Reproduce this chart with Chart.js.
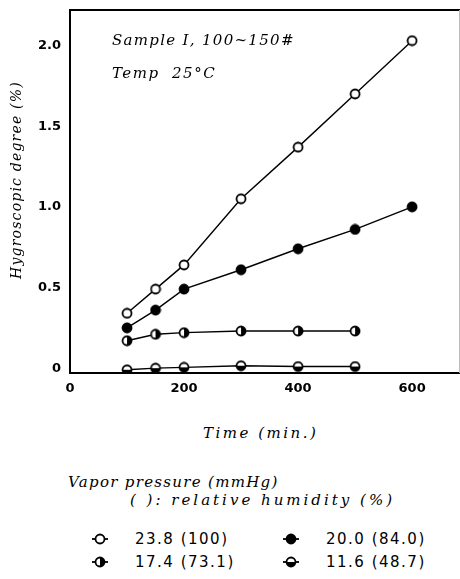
<!DOCTYPE html>
<html>
<head>
<meta charset="utf-8">
<script src="https://cdn.jsdelivr.net/npm/chart.js@4.4.1/dist/chart.umd.min.js"></script>
<style>
body { margin: 0; background: #fff; width: 460px; height: 579px; position: relative; overflow: hidden; }
#wrap { position: absolute; left: 0; top: 0; width: 460px; height: 400px; }
.hand { position: absolute; font-family: "DejaVu Serif", serif; font-style: italic; color: #000; white-space: nowrap; line-height: 20px; }
.num { position: absolute; font-family: "DejaVu Sans", sans-serif; color: #000; white-space: nowrap; line-height: 20px; font-size: 15px; letter-spacing: 1.5px; }
.mk { position: absolute; }
</style>
</head>
<body>
<div id="wrap"><canvas id="chart" width="460" height="400"></canvas></div>

<div class="hand" style="left:112px;top:30px;font-size:15px;letter-spacing:1.3px;">Sample I, 100~150#</div>
<div class="hand" style="left:112px;top:63px;font-size:15px;letter-spacing:1.5px;">Temp&nbsp;&nbsp;25°C</div>
<div class="hand" style="left:6px;top:182px;font-size:14px;letter-spacing:1.2px;transform-origin:0 0;transform:rotate(-90deg);" id="ylab">Hygroscopic degree (%)</div>
<div class="hand" style="left:203px;top:423px;font-size:15px;letter-spacing:2.5px;">Time (min.)</div>
<div class="hand" style="left:68px;top:472px;font-size:15px;letter-spacing:1.3px;">Vapor pressure (mmHg)</div>
<div class="hand" style="left:130px;top:490px;font-size:15px;letter-spacing:3px;">( ): relative humidity (%)</div>
<div id="legend"></div>

<script>
// data
const times = [100, 150, 200, 300, 400, 500, 600];
const vp238 = [0.34, 0.49, 0.64, 1.05, 1.37, 1.70, 2.03];
const vp200 = [0.25, 0.36, 0.49, 0.61, 0.74, 0.86, 1.00];
const vp174 = [0.17, 0.21, 0.22, 0.23, 0.23, 0.23, null];
const vp116 = [-0.01, 0.0, 0.005, 0.015, 0.01, 0.01, null];
const seriesLabels = ['23.8 (100)', '20.0 (84.0)', '17.4 (73.1)', '11.6 (48.7)'];
const xTicks = [0, 200, 400, 600];
const yTicks = [0, 0.5, 1.0, 1.5, 2.0];

function makeMarker(kind, w, h, withLine) {
    const c = document.createElement('canvas');
    c.width = w; c.height = h;
    const g = c.getContext('2d');
    const cx = w / 2, cy = h / 2, r = 4.5;
    g.lineWidth = 1.8;
    g.strokeStyle = '#000';
    if (withLine) {
        g.beginPath(); g.moveTo(0, cy); g.lineTo(w, cy); g.stroke();
    }
    g.beginPath(); g.arc(cx, cy, r, 0, Math.PI * 2);
    g.fillStyle = kind === 'filled' ? '#000' : '#fff';
    g.fill();
    g.fillStyle = '#000';
    if (kind === 'right') {
        g.beginPath(); g.arc(cx, cy, r, -Math.PI / 2, Math.PI / 2); g.closePath(); g.fill();
    } else if (kind === 'bottom') {
        g.beginPath(); g.arc(cx, cy, r, 0, Math.PI); g.closePath(); g.fill();
    }
    g.beginPath(); g.arc(cx, cy, r, 0, Math.PI * 2); g.stroke();
    return c;
}

const kinds = ['open', 'filled', 'right', 'bottom'];
const seriesValues = [vp238, vp200, vp174, vp116];

const topBorder = {
    id: 'topBorder',
    afterDraw(chart) {
        const { ctx, chartArea } = chart;
        ctx.save();
        ctx.strokeStyle = '#000';
        ctx.lineWidth = 2;
        ctx.beginPath();
        ctx.moveTo(chartArea.left, chartArea.top);
        ctx.lineTo(chartArea.right, chartArea.top);
        ctx.stroke();
        ctx.strokeStyle = '#bbb';
        ctx.lineWidth = 1;
        ctx.beginPath();
        ctx.moveTo(chartArea.right - 0.5, chartArea.top);
        ctx.lineTo(chartArea.right - 0.5, chartArea.bottom);
        ctx.stroke();
        ctx.restore();
    }
};

function buildChart() {
    const ctx = document.getElementById('chart').getContext('2d');
    const datasets = seriesValues.map((vals, i) => ({
        label: seriesLabels[i],
        data: times.map((t, j) => ({ x: t, y: vals[j] })),
        borderColor: '#000',
        borderWidth: 1.4,
        pointStyle: makeMarker(kinds[i], 12, 12, false),
        pointRadius: 6,
        tension: 0
    }));
    return new Chart(ctx, {
        type: 'line',
        data: { datasets },
        options: {
            responsive: false,
            animation: false,
            layout: { autoPadding: false, padding: { top: 10, left: 0, right: 0, bottom: 0 } },
            plugins: { legend: { display: false }, tooltip: { enabled: false } },
            scales: {
                x: {
                    type: 'linear', min: 0, max: 684,
                    grid: { display: false },
                    border: { display: true, color: '#000', width: 2 },
                    afterBuildTicks: s => { s.ticks = xTicks.map(v => ({ value: v })); },
                    afterFit: s => { s.height = 27; s.paddingLeft = 0; s.paddingRight = 0; },
                    ticks: { color: '#000', padding: 0, font: { family: 'DejaVu Sans', size: 13, weight: 'bold' } }
                },
                y: {
                    min: -0.03, max: 2.22,
                    grid: { display: false },
                    border: { display: true, color: '#000', width: 2 },
                    afterBuildTicks: s => { s.ticks = yTicks.map(v => ({ value: v })); },
                    afterFit: s => { s.width = 70; },
                    ticks: {
                        color: '#000', padding: 1,
                        font: { family: 'DejaVu Sans', size: 13, weight: 'bold' },
                        callback: v => v === 0 ? '0' : v.toFixed(1)
                    }
                }
            }
        },
        plugins: [topBorder]
    });
}

function buildLegend() {
    const box = document.getElementById('legend');
    const pos = [[92, 539], [283, 539], [92, 562], [283, 562]];
    seriesLabels.forEach((lab, i) => {
        const m = makeMarker(kinds[i], 16, 12, true);
        m.className = 'mk';
        m.style.left = pos[i][0] + 'px';
        m.style.top = (pos[i][1] - 6) + 'px';
        box.appendChild(m);
        const t = document.createElement('div');
        t.className = 'num';
        t.style.left = (pos[i][0] + 43) + 'px';
        t.style.top = (pos[i][1] - 10) + 'px';
        t.textContent = lab;
        box.appendChild(t);
    });
}

function initPage() {
    const yl = document.getElementById('ylab');
    yl.style.top = (180 + yl.offsetWidth / 2) + 'px';
    buildChart();
    buildLegend();
}

document.addEventListener('DOMContentLoaded', initPage);
</script>
</body>
</html>
